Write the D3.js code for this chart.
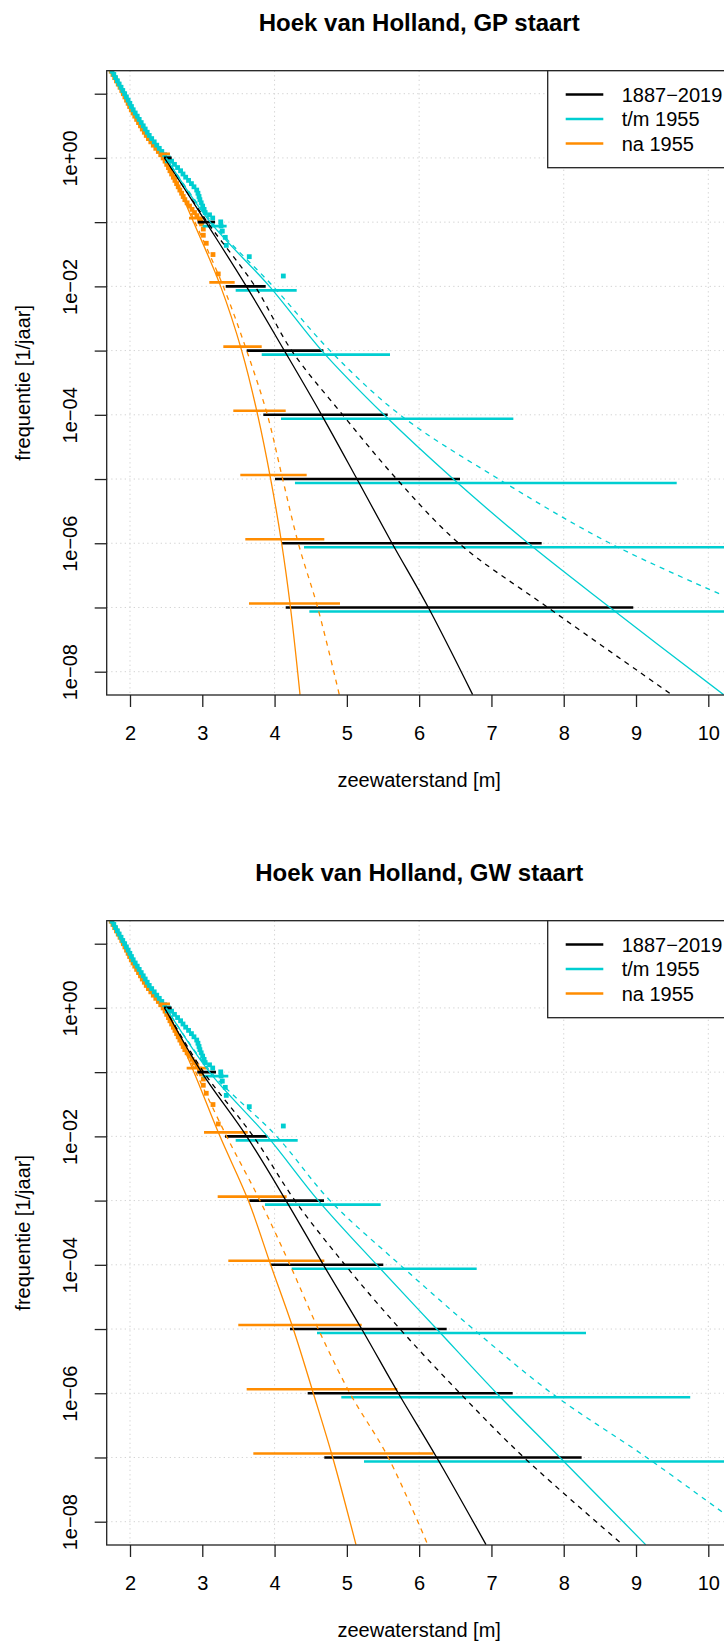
<!DOCTYPE html>
<html>
<head>
<meta charset="utf-8">
<script src="https://cdn.jsdelivr.net/npm/d3@7"></script>
<style>
  body { margin: 0; background: #ffffff; }
  svg { display: block; font-family: "Liberation Sans", Arial, Helvetica, sans-serif; }
</style>
</head>
<body>
<svg id="chart" width="724" height="1643"></svg>
<script>
// ---------- axis ticks ----------
const xTicks = [2, 3, 4, 5, 6, 7, 8, 9, 10];
const xGrid = [2, 4, 6, 8, 10];
const yTicks = [1e1, 1e0, 1e-1, 1e-2, 1e-3, 1e-4, 1e-5, 1e-6, 1e-7, 1e-8];
const yTickLabels = ["", "1e+00", "", "1e\u221202", "", "1e\u221204", "", "1e\u221206", "", "1e\u221208"];

// ---------- legend ----------
const seriesNames = ["1887\u22122019", "t/m 1955", "na 1955"];

// ---------- empirical exceedance frequencies [waterstand m, frequentie 1/jaar] ----------
const empTm1955 = [
  [1.752, 22.39], [1.776, 19.95], [1.800, 17.78], [1.826, 15.85], [1.850, 14.13], [1.876, 12.59],
  [1.900, 11.22], [1.926, 10.0], [1.950, 8.91], [1.974, 7.94], [1.998, 7.08], [2.020, 6.31],
  [2.044, 5.62], [2.072, 5.01], [2.100, 4.47], [2.127, 3.98], [2.155, 3.55], [2.183, 3.16],
  [2.210, 2.82], [2.238, 2.51], [2.266, 2.24], [2.300, 2.00], [2.335, 1.78], [2.370, 1.58],
  [2.405, 1.41], [2.440, 1.26], [2.480, 1.12], [2.530, 1.00], [2.575, 0.891], [2.615, 0.794],
  [2.658, 0.708], [2.700, 0.631], [2.733, 0.562], [2.770, 0.501], [2.810, 0.447], [2.850, 0.398],
  [2.885, 0.355], [2.923, 0.316], [2.940, 0.282], [2.955, 0.251], [2.967, 0.224], [2.985, 0.200],
  [3.005, 0.178], [3.025, 0.158], [3.040, 0.141], [3.100, 0.130], [3.144, 0.116], [3.255, 0.101],
  [3.260, 0.087], [3.277, 0.0725], [3.318, 0.058], [3.332, 0.0435], [3.650, 0.029], [4.121, 0.0145]
];
const empNa1955 = [
  [1.740, 22.39], [1.764, 19.95], [1.788, 17.78], [1.813, 15.85], [1.837, 14.13], [1.862, 12.59],
  [1.886, 11.22], [1.908, 10.0], [1.930, 8.91], [1.952, 7.94], [1.974, 7.08], [1.995, 6.31],
  [2.018, 5.62], [2.042, 5.01], [2.066, 4.47], [2.092, 3.98], [2.118, 3.55], [2.145, 3.16],
  [2.170, 2.82], [2.198, 2.51], [2.225, 2.24], [2.255, 2.00], [2.288, 1.78], [2.322, 1.58],
  [2.357, 1.41], [2.392, 1.26], [2.425, 1.12], [2.458, 1.00], [2.485, 0.891], [2.508, 0.794],
  [2.532, 0.708], [2.553, 0.631], [2.576, 0.562], [2.600, 0.501], [2.622, 0.447], [2.645, 0.398],
  [2.667, 0.355], [2.690, 0.316], [2.714, 0.282], [2.736, 0.251], [2.759, 0.224], [2.790, 0.200],
  [2.823, 0.178], [2.858, 0.158], [2.892, 0.141], [2.925, 0.126], [2.960, 0.112], [2.980, 0.100],
  [2.990, 0.0938], [3.014, 0.0781], [3.014, 0.0625], [3.055, 0.0469], [3.148, 0.0313], [3.221, 0.0156]
];

// ---------- fitted tails, GP [waterstand m, frequentie] ----------
const gpAllFit     = [[2.48, 1], [3.05, 1e-1], [3.61, 1e-2], [4.135, 1e-3], [4.65, 1e-4], [5.14, 1e-5], [5.625, 1e-6], [6.127, 1e-7], [6.74, 4.4e-9]];
const gpAllUpper   = [[2.48, 1], [3.07, 1e-1], [3.73, 1e-2], [4.236, 1e-3], [4.942, 1e-4], [5.689, 1e-5], [6.55, 1e-6], [7.78, 1e-7], [9.493, 4.4e-9]];
const gpTmFit      = [[2.50, 1], [3.11, 1e-1], [3.93, 1e-2], [4.652, 1e-3], [5.514, 1e-4], [6.472, 1e-5], [7.51, 1e-6], [8.64, 1e-7], [10.21, 4.4e-9]];
const gpTmUpper    = [[2.50, 1], [3.13, 1e-1], [3.98, 1e-2], [4.767, 1e-3], [5.735, 1e-4], [7.10, 1e-5], [8.64, 1e-6], [10.20, 1.55e-7]];
const gpNaFit      = [[2.50, 1], [2.88, 1e-1], [3.254, 1e-2], [3.545, 1e-3], [3.766, 1e-4], [3.946, 1e-5], [4.098, 1e-6], [4.22, 1e-7], [4.352, 4.4e-9]];
const gpNaUpper    = [[2.50, 1], [2.90, 1e-1], [3.29, 1e-2], [3.614, 1e-3], [3.90, 1e-4], [4.112, 1e-5], [4.328, 1e-6], [4.596, 1e-7], [4.895, 4.4e-9]];

// ---------- fitted tails, GW ----------
const gwAllFit     = [[2.48, 1], [2.99, 1e-1], [3.614, 1e-2], [4.158, 1e-3], [4.675, 1e-4], [5.205, 1e-5], [5.712, 1e-6], [6.243, 1e-7], [6.925, 4.4e-9]];
const gwAllUpper   = [[2.48, 1], [3.02, 1e-1], [3.706, 1e-2], [4.282, 1e-3], [4.974, 1e-4], [5.735, 1e-5], [6.565, 1e-6], [7.45, 1e-7], [8.815, 4.4e-9]];
const gwTmFit      = [[2.50, 1], [3.10, 1e-1], [3.90, 1e-2], [4.605, 1e-3], [5.413, 1e-4], [6.243, 1e-5], [7.072, 1e-6], [7.948, 1e-7], [9.133, 4.4e-9]];
const gwTmUpper    = [[2.50, 1], [3.12, 1e-1], [4.029, 1e-2], [4.767, 1e-3], [5.735, 1e-4], [6.749, 1e-5], [7.834, 1e-6], [9.147, 1e-7], [10.217, 1.35e-8]];
const gwNaFit      = [[2.50, 1], [2.885, 1e-1], [3.245, 1e-2], [3.637, 1e-3], [3.946, 1e-4], [4.259, 1e-5], [4.536, 1e-6], [4.804, 1e-7], [5.126, 4.4e-9]];
const gwNaUpper    = [[2.50, 1], [2.91, 1e-1], [3.337, 1e-2], [3.798, 1e-3], [4.213, 1e-4], [4.605, 1e-5], [5.043, 1e-6], [5.573, 1e-7], [6.118, 4.4e-9]];

// ---------- confidence intervals [frequentie, ondergrens m, bovengrens m] ----------
const gpAllCI = [[1, 2.47, 2.577], [1e-1, 2.936, 3.176], [1e-2, 3.324, 3.877], [1e-3, 3.614, 4.675], [1e-4, 3.844, 5.565], [1e-5, 4.006, 6.565], [1e-6, 4.098, 7.695], [1e-7, 4.154, 8.962]];
const gpTmCI  = [[1, 2.484, 2.60], [1e-1, 3.005, 3.337], [1e-2, 3.462, 4.306], [1e-3, 3.822, 5.597], [1e-4, 4.089, 7.303], [1e-5, 4.282, 9.563], [1e-6, 4.407, 11.0], [1e-7, 4.481, 12.0]];
const gpNaCI  = [[1, 2.415, 2.553], [1e-1, 2.816, 3.037], [1e-2, 3.097, 3.448], [1e-3, 3.291, 3.822], [1e-4, 3.429, 4.154], [1e-5, 3.526, 4.444], [1e-6, 3.595, 4.688], [1e-7, 3.646, 4.905]];
const gwAllCI = [[1, 2.47, 2.577], [1e-1, 2.931, 3.19], [1e-2, 3.314, 3.899], [1e-3, 3.651, 4.684], [1e-4, 3.946, 5.504], [1e-5, 4.213, 6.381], [1e-6, 4.458, 7.294], [1e-7, 4.688, 8.248]];
const gwTmCI  = [[1, 2.484, 2.60], [1e-1, 3.005, 3.36], [1e-2, 3.462, 4.32], [1e-3, 3.867, 5.468], [1e-4, 4.236, 6.796], [1e-5, 4.587, 8.308], [1e-6, 4.923, 9.75], [1e-7, 5.237, 12.0]];
const gwNaCI  = [[1, 2.415, 2.553], [1e-1, 2.784, 3.061], [1e-2, 3.024, 3.628], [1e-3, 3.213, 4.167], [1e-4, 3.36, 4.688], [1e-5, 3.498, 5.205], [1e-6, 3.614, 5.698], [1e-7, 3.706, 6.197]];

// ---------- styling ----------
const COL = { all: "#000000", tm: "#00CED1", na: "#FF8C00" };
const FONT = 20;

const panels = [
  { title: "Hoek van Holland, GP staart", top: 0,
    fits: { all: gpAllFit, tm: gpTmFit, na: gpNaFit },
    uppers: { all: gpAllUpper, tm: gpTmUpper, na: gpNaUpper },
    cis: { all: gpAllCI, tm: gpTmCI, na: gpNaCI } },
  { title: "Hoek van Holland, GW staart", top: 850,
    fits: { all: gwAllFit, tm: gwTmFit, na: gwNaFit },
    uppers: { all: gwAllUpper, tm: gwTmUpper, na: gwNaUpper },
    cis: { all: gwAllCI, tm: gwTmCI, na: gwNaCI } }
];

// plot region inside each panel
const box = { left: 106.7, right: 731.7, top: 70.7, bottom: 695 };

const x = d3.scaleLinear().domain([2, 10]).range([130, 708.3]);
const y = d3.scaleLog().domain([10, 1e-8]).range([93.7, 671.7]);

const svg = d3.select("#chart");
svg.append("rect").attr("width", 724).attr("height", 1643).attr("fill", "#ffffff");

const line = d3.line()
  .x(d => x(d[0]))
  .y(d => y(d[1]))
  .curve(d3.curveCatmullRom.alpha(0.5));

panels.forEach((p, pi) => {
  const g = svg.append("g").attr("transform", `translate(0,${p.top})`);
  const clipId = "clip" + pi;
  g.append("clipPath").attr("id", clipId)
    .append("rect")
    .attr("x", box.left).attr("y", box.top)
    .attr("width", box.right - box.left).attr("height", box.bottom - box.top);

  // grid
  const grid = g.append("g").attr("stroke", "#d3d3d3").attr("stroke-width", 1)
    .attr("stroke-dasharray", "1.3,3.2");
  grid.selectAll("line.v").data(xGrid).join("line")
    .attr("x1", d => x(d)).attr("x2", d => x(d))
    .attr("y1", box.top).attr("y2", box.bottom);
  grid.selectAll("line.h").data(yTicks).join("line")
    .attr("x1", box.left).attr("x2", box.right)
    .attr("y1", d => y(d)).attr("y2", d => y(d));

  const plot = g.append("g").attr("clip-path", `url(#${clipId})`);

  // empirical points
  const sq = 4.8;
  [[empNa1955, COL.na], [empTm1955, COL.tm]].forEach(([data, c]) => {
    plot.append("g").selectAll("rect").data(data).join("rect")
      .attr("x", d => x(d[0]) - sq / 2).attr("y", d => y(d[1]) - sq / 2)
      .attr("width", sq).attr("height", sq).attr("fill", c);
  });

  // confidence intervals, offset vertically per series
  const ciOffset = { na: -4, all: 0, tm: 4 };
  ["na", "all", "tm"].forEach(k => {
    plot.append("g").selectAll("line").data(p.cis[k]).join("line")
      .attr("x1", d => x(d[1])).attr("x2", d => x(d[2]))
      .attr("y1", d => y(d[0]) + ciOffset[k]).attr("y2", d => y(d[0]) + ciOffset[k])
      .attr("stroke", COL[k]).attr("stroke-width", 2.6);
  });

  // fitted lines and upper bounds
  ["na", "all", "tm"].forEach(k => {
    plot.append("path").datum(p.fits[k]).attr("d", line)
      .attr("fill", "none").attr("stroke", COL[k]).attr("stroke-width", 1.3);
    plot.append("path").datum(p.uppers[k]).attr("d", line)
      .attr("fill", "none").attr("stroke", COL[k]).attr("stroke-width", 1.3)
      .attr("stroke-dasharray", "5,5");
  });

  // box
  g.append("rect")
    .attr("x", box.left).attr("y", box.top)
    .attr("width", box.right - box.left).attr("height", box.bottom - box.top)
    .attr("fill", "none").attr("stroke", "#222").attr("stroke-width", 1.3);

  // x axis
  const xa = g.append("g").attr("transform", `translate(0,${box.bottom})`)
    .call(d3.axisBottom(x).tickValues(xTicks).tickSize(12).tickPadding(0).tickFormat(d3.format("d")));
  xa.select(".domain").remove();
  xa.selectAll(".tick line").attr("stroke", "#222").attr("stroke-width", 1.3);
  xa.selectAll(".tick text").attr("y", 45).attr("dy", null)
    .attr("font-size", FONT).attr("fill", "#000").attr("font-family", null);

  // y axis
  const ya = g.append("g").attr("transform", `translate(${box.left},0)`)
    .call(d3.axisLeft(y).tickValues(yTicks).tickSize(12).tickFormat((d, i) => yTickLabels[i]));
  ya.select(".domain").remove();
  ya.selectAll(".tick line").attr("stroke", "#222").attr("stroke-width", 1.3);
  ya.selectAll(".tick text")
    .attr("x", null).attr("dy", null)
    .attr("transform", "translate(-29.5,0) rotate(-90)")
    .attr("text-anchor", "middle")
    .attr("font-size", FONT).attr("fill", "#000").attr("font-family", null);

  // titles
  g.append("text").attr("x", (box.left + box.right) / 2).attr("y", 31)
    .attr("text-anchor", "middle").attr("font-weight", "bold").attr("font-size", 24)
    .text(p.title);
  g.append("text").attr("x", (box.left + box.right) / 2).attr("y", 787)
    .attr("text-anchor", "middle").attr("font-size", FONT)
    .text("zeewaterstand [m]");
  g.append("text")
    .attr("transform", `translate(30,${(box.top + box.bottom) / 2}) rotate(-90)`)
    .attr("text-anchor", "middle").attr("font-size", FONT)
    .text("frequentie [1/jaar]");

  // legend
  const lg = g.append("g");
  lg.append("rect").attr("x", 547.7).attr("y", box.top)
    .attr("width", box.right - 547.7).attr("height", 167.7 - box.top)
    .attr("fill", "#fff").attr("stroke", "#222").attr("stroke-width", 1.3);
  const keys = ["all", "tm", "na"];
  seriesNames.forEach((name, i) => {
    const ly = 94.5 + i * 24.5;
    lg.append("line").attr("x1", 565.7).attr("x2", 603.3).attr("y1", ly).attr("y2", ly)
      .attr("stroke", COL[keys[i]]).attr("stroke-width", 2.6);
    lg.append("text").attr("x", 621.7).attr("y", ly + 7)
      .attr("font-size", FONT).text(name);
  });
});
</script>
</body>
</html>
